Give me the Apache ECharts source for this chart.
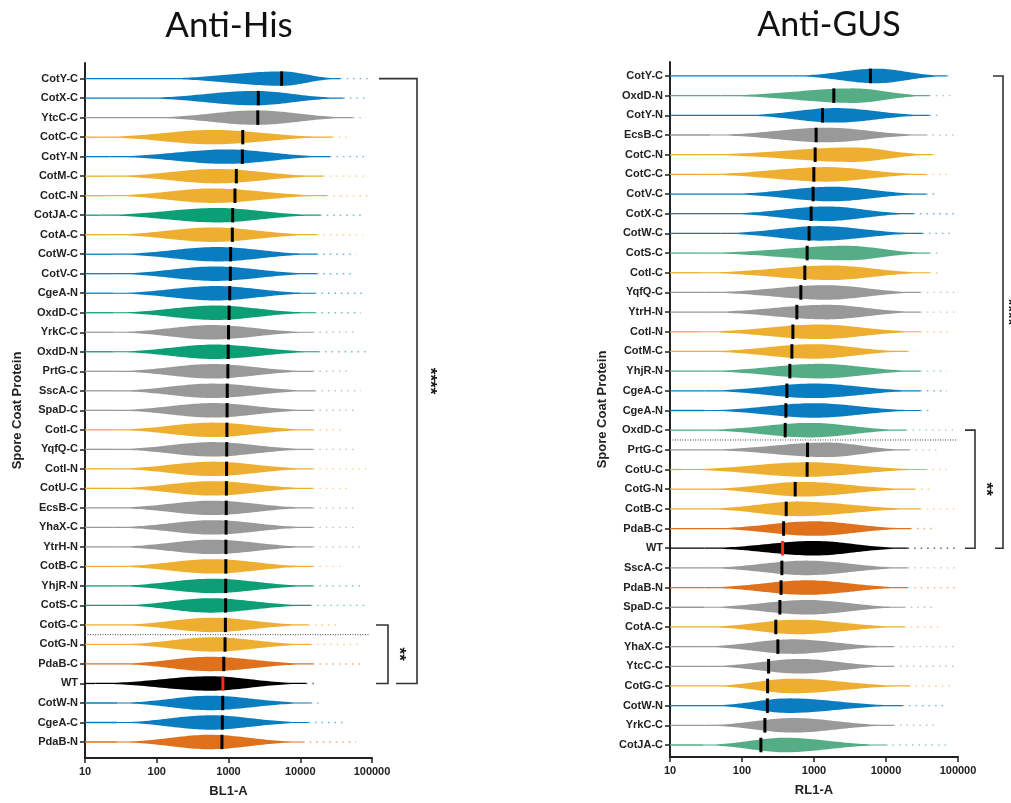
<!DOCTYPE html>
<html>
<head>
<meta charset="utf-8">
<script src="https://cdn.jsdelivr.net/npm/echarts@6/dist/echarts.min.js"></script>
<style>
  html, body { margin: 0; padding: 0; background: #fff; }
  #main { width: 1011px; height: 803px; }
</style>
</head>
<body>
<div id="main"></div>
<script>
// ---- Anti-His panel (BL1-A) ----
var hisCats = ['CotY-C','CotX-C','YtcC-C','CotC-C','CotY-N','CotM-C','CotC-N','CotJA-C','CotA-C','CotW-C',
  'CotV-C','CgeA-N','OxdD-C','YrkC-C','OxdD-N','PrtG-C','SscA-C','SpaD-C','CotI-C','YqfQ-C',
  'CotI-N','CotU-C','EcsB-C','YhaX-C','YtrH-N','CotB-C','YhjR-N','CotS-C','CotG-C','CotG-N',
  'PdaB-C','WT','CotW-N','CgeA-C','PdaB-N'];
// left end of body, densest value, right end of body, last outlier, median
var hisLo   = [111,58,80,16,22,22,22,16,22,25, 25,25,25,25,25,25,25,25,25,25, 25,25,25,25,25,25,25,31,28,28, 28,14,28,28,28];
var hisPeak = [5500,2350,2500,600,950,690,600,690,600,700, 650,650,650,600,650,600,600,600,600,600, 600,600,600,600,600,600,600,550,600,600, 550,550,550,550,550];
var hisHi   = [36000,40000,54000,28000,26000,21000,23500,19000,17000,17000, 17000,16000,16000,15000,18000,15000,16000,15000,15000,15000,
  15000,15000,15000,15000,15000,15000,15000,14000,13000,14000, 15000,12000,14000,13000,11000];
var hisTail = [90000,90000,70000,45000,80000,85000,90000,80000,75000,60000, 55000,85000,70000,60000,90000,50000,70000,60000,40000,60000,
  90000,50000,60000,60000,80000,40000,70000,90000,35000,70000, 70000,18000,18000,45000,60000];
var hisMedian = [5500,2600,2560,1580,1560,1285,1230,1143,1130,1070, 1060,1040,1020,1000,990,980,960,955,950,945,
  940,935,930,925,920,918,915,912,905,895, 860,835,830,820,810];
var hisDivider = 'CotG-N';
var hisBrackets = [{from: 'CotY-C', to: 'WT', label: '****'}, {from: 'CotG-C', to: 'WT', label: '**'}];

// ---- Anti-GUS panel (RL1-A) ----
var gusCats = ['CotY-C','OxdD-N','CotY-N','EcsB-C','CotC-N','CotC-C','CotV-C','CotX-C','CotW-C','CotS-C',
  'CotI-C','YqfQ-C','YtrH-N','CotI-N','CotM-C','YhjR-N','CgeA-C','CgeA-N','OxdD-C','PrtG-C',
  'CotU-C','CotG-N','CotB-C','PdaB-C','WT','SscA-C','PdaB-N','SpaD-C','CotA-C','YhaX-C',
  'YtcC-C','CotG-C','CotW-N','YrkC-C','CotJA-C'];
var gusLo   = [500,50,100,36,26,26,60,60,50,26, 26,30,30,26,30,30,30,30,26,28, 15,30,30,35,30,30,30,30,30,26, 33,36,36,30,29];
var gusPeak = [7400,3500,2000,1500,3500,1500,1800,1500,1200,2800, 1700,1500,1500,1200,1000,1200,1000,1000,900,1500,
  800,700,600,1000,1000,800,800,800,600,510, 640,510,450,510,400];
var gusHi   = [70000,40000,40000,36000,44000,36000,36000,24000,32000,40000, 40000,30000,30000,30000,20000,30000,30000,30000,19000,21000,
  36000,25000,30000,22000,20000,20000,20000,18000,18000,12700, 12700,21000,17000,12700,10000];
var gusTail = [80000,90000,60000,90000,50000,80000,50000,90000,90000,60000, 60000,90000,90000,80000,25000,70000,70000,45000,90000,50000,
  80000,40000,90000,50000,90000,90000,90000,50000,60000,90000, 90000,90000,70000,50000,70000];
var gusMedian = [6080,1885,1312,1070,1038,995,973,912,855,803, 746,657,578,509,493,462,420,407,398,813,
  803,548,411,378,366,358,349,336,295,315, 234,227,225,208,183];
var gusDivider = 'PrtG-C';
var gusBrackets = [{from: 'CotY-C', to: 'WT', label: '****'}, {from: 'OxdD-C', to: 'WT', label: '**'}];

// colour by protein
var family = {
  CotY:'blue', CotX:'blue', CotW:'blue', CotV:'blue', CgeA:'blue',
  YtcC:'grey', EcsB:'grey', PrtG:'grey', SscA:'grey', SpaD:'grey', YhaX:'grey', YtrH:'grey', YrkC:'grey', YqfQ:'grey',
  CotC:'yellow', CotM:'yellow', CotA:'yellow', CotI:'yellow', CotU:'yellow', CotB:'yellow', CotG:'yellow',
  CotJA:'green', OxdD:'green', YhjR:'green', CotS:'green',
  PdaB:'orange', WT:'black'
};
var palettes = [
  {blue:'#0a7dc0', grey:'#999999', yellow:'#eeae2f', green:'#0c9e75', orange:'#e0711c', black:'#000000'},
  {blue:'#0a7dc0', grey:'#999999', yellow:'#eeae2f', green:'#55ad85', orange:'#e0711c', black:'#000000'}
];
function colorOf(name, p) { return palettes[p][family[name.split('-')[0]]]; }

var chart = echarts.init(document.getElementById('main'));
var FONT = 'Liberation Sans';

function violinSeries(p, cats, lo, peak, hi, tail, med) {
  return {
    type: 'custom', xAxisIndex: p, yAxisIndex: p,
    encode: {x: [1, 2, 3, 4, 5], y: 0},
    data: cats.map(function (c, i) { return [i, lo[i], peak[i], hi[i], tail[i], med[i]]; }),
    renderItem: function (params, api) {
      var i = api.value(0), L0 = Math.log10(api.value(1)), Lp = Math.log10(api.value(2)), L1 = Math.log10(api.value(3));
      var tl = api.value(4), md = api.value(5);
      var unit = Math.abs(api.coord([10, i + 1])[1] - api.coord([10, i])[1]);
      var hw = unit * 0.37;
      var color = colorOf(cats[params.dataIndex], p);
      var top = [], bot = [], N = 60, K = 2.8, k0 = Math.exp(-K);
      for (var k = 0; k <= N; k++) {
        var L = L0 + (L1 - L0) * k / N;
        var d = L < Lp ? (Lp - L) / (Lp - L0) : (L - Lp) / (L1 - Lp);
        var w = Math.max(0.6, hw * (Math.exp(-K * d * d) - k0) / (1 - k0));
        var pt = api.coord([Math.pow(10, L), i]);
        top.push([pt[0], pt[1] - w]);
        bot.unshift([pt[0], pt[1] + w]);
      }
      var a = api.coord([10, i]), b = api.coord([Math.pow(10, L0), i]);
      var c = api.coord([Math.pow(10, L1), i]), e = api.coord([tl, i]);
      var m = api.coord([md, i]);
      var isWT = cats[params.dataIndex] === 'WT';
      return {
        type: 'group',
        children: [
          {type: 'line', shape: {x1: a[0], y1: a[1], x2: b[0], y2: b[1]}, style: {stroke: color, lineWidth: 1.3}},
          {type: 'line', shape: {x1: c[0], y1: c[1], x2: e[0], y2: e[1]}, style: {stroke: color, lineWidth: 1.4, lineDash: [1.5, 5], opacity: 0.6}},
          {type: 'polygon', shape: {points: top.concat(bot)}, style: {fill: color}},
          {type: 'rect', shape: {x: m[0] - 1.5, y: m[1] - hw, width: 3, height: hw * 2}, style: {fill: isWT ? '#ff2a1a' : '#000'}}
        ]
      };
    },
    z: 3
  };
}

function dividerSeries(p, cats, name) {
  return {
    type: 'custom', xAxisIndex: p, yAxisIndex: p, silent: true,
    data: [[cats.indexOf(name) - 0.5]],
    encode: {y: 0},
    renderItem: function (params, api) {
      var a = api.coord([10, api.value(0)]), b = api.coord([100000, api.value(0)]);
      return {type: 'line', shape: {x1: a[0], y1: a[1], x2: b[0] - 2, y2: b[1]},
        style: {stroke: '#444', lineWidth: 1, lineDash: [1, 1.5]}};
    }
  };
}

// bracket offsets in px right of the plot edge
var bracketStyle = [
  {bigTop: 7, bigBot: 24, bigBar: 45, smStart: 4, smBar: 16, smLabel: 27, bigLabel: 58},
  {bigTop: 35, bigBot: 37, bigBar: 45, smStart: 7, smBar: 17, smLabel: 28, bigLabel: 50}
];

function bracketSeries(p, cats, brackets) {
  var s = bracketStyle[p];
  return {
    type: 'custom', xAxisIndex: p, yAxisIndex: p, silent: true, clip: false,
    data: brackets.map(function (br) { return [cats.indexOf(br.from), cats.indexOf(br.to)]; }),
    encode: {y: [0, 1]},
    renderItem: function (params, api) {
      var big = params.dataIndex === 0;
      var t = api.coord([100000, api.value(0)]), b = api.coord([100000, api.value(1)]);
      var x0 = t[0];
      var bar = x0 + (big ? s.bigBar : s.smBar);
      var st = x0 + (big ? s.bigTop : s.smStart), sb = x0 + (big ? s.bigBot : s.smStart);
      var lx = x0 + (big ? s.bigLabel : s.smLabel);
      var ly = (t[1] + b[1]) / 2;
      return {
        type: 'group',
        children: [
          {type: 'polyline', shape: {points: [[st, t[1]], [bar, t[1]], [bar, b[1]], [sb, b[1]]]},
            style: {stroke: '#333', lineWidth: 1.6, fill: null}},
          {type: 'text', x: lx, y: ly, rotation: -Math.PI / 2,
            style: {text: brackets[params.dataIndex].label, fill: '#111', font: 'bold 17px ' + FONT,
              align: 'center', verticalAlign: 'middle'}}
        ]
      };
    }
  };
}

function xAxis(p, name) {
  return {
    type: 'log', logBase: 10, gridIndex: p, min: 10, max: 100000,
    name: name, nameLocation: 'middle', nameGap: 27,
    nameTextStyle: {fontFamily: FONT, fontWeight: 'bold', fontSize: 13, color: '#222'},
    axisLine: {show: true, onZero: false, lineStyle: {color: '#222', width: 2}},
    axisTick: {show: true, length: 5, lineStyle: {color: '#222', width: 1.5}},
    minorTick: {show: false},
    splitLine: {show: false},
    axisLabel: {fontFamily: FONT, fontWeight: 'bold', fontSize: 11, color: '#222', margin: 8,
      formatter: function (v) { return String(Math.round(v)); }}
  };
}

function yAxis(p, cats, min, max) {
  var idx = cats.map(function (c, i) { return i; });
  return {
    type: 'value', gridIndex: p, inverse: true, min: min, max: max,
    name: 'Spore Coat Protein', nameLocation: 'middle', nameGap: 61,
    nameTextStyle: {fontFamily: FONT, fontWeight: 'bold', fontSize: 13, color: '#222'},
    axisLine: {show: true, onZero: false, lineStyle: {color: '#222', width: 2}},
    axisTick: {show: true, length: 5, customValues: idx, lineStyle: {color: '#222', width: 1.5}},
    splitLine: {show: false},
    axisLabel: {customValues: idx, fontFamily: FONT, fontWeight: 'bold', fontSize: 11, color: '#222', margin: 7,
      formatter: function (v) { return cats[Math.round(v)]; }}
  };
}

var option = {
  backgroundColor: '#fff',
  animation: false,
  title: [
    {text: 'Anti-His', left: 224, top: 3, textAlign: 'center',
      textStyle: {fontFamily: 'Lato', fontWeight: 'normal', fontSize: 35, color: '#111'}},
    {text: 'Anti-GUS', left: 824, top: 3, textAlign: 'center',
      textStyle: {fontFamily: 'Lato', fontWeight: 'normal', fontSize: 34, color: '#111'}}
  ],
  grid: [
    {left: 85, top: 63, width: 287, height: 699},
    {left: 670, top: 62, width: 288, height: 695}
  ],
  xAxis: [xAxis(0, 'BL1-A'), xAxis(1, 'RL1-A')],
  yAxis: [yAxis(0, hisCats, -0.8, 34.82), yAxis(1, gusCats, -0.71, 34.61)],
  series: [
    violinSeries(0, hisCats, hisLo, hisPeak, hisHi, hisTail, hisMedian),
    violinSeries(1, gusCats, gusLo, gusPeak, gusHi, gusTail, gusMedian),
    dividerSeries(0, hisCats, hisDivider),
    dividerSeries(1, gusCats, gusDivider),
    bracketSeries(0, hisCats, hisBrackets),
    bracketSeries(1, gusCats, gusBrackets)
  ]
};
chart.setOption(option);
</script>
</body>
</html>
